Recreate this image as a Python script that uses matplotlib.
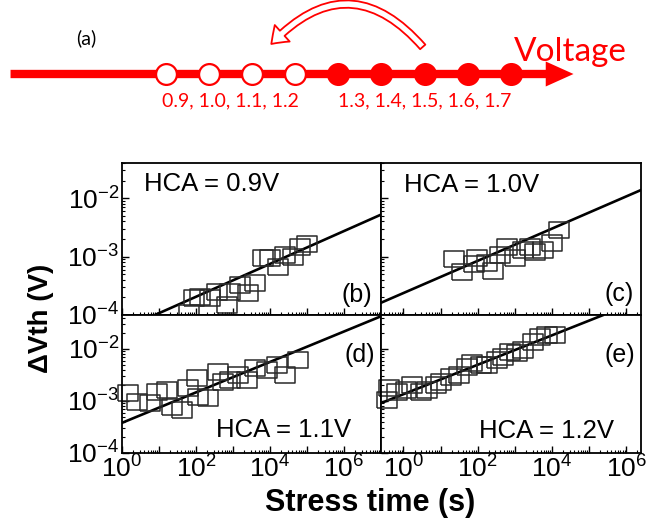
'''
HCA stress voltage diagram + dVth vs stress time (4 panels, log-log)
'''
import numpy as np
import matplotlib.pyplot as plt
from matplotlib.patches import FancyArrowPatch
from matplotlib.ticker import LogLocator, FuncFormatter, NullFormatter

W, H = 650, 523  # 出力サイズ(px)

plt.rcParams["font.family"] = ["Liberation Sans", "DejaVu Sans"]

# (a) 電圧の並び
volt_hca = [0.9, 1.0, 1.1, 1.2]          # 白丸
volt_stress = [1.3, 1.4, 1.5, 1.6, 1.7]  # 黒丸
hca_label = "0.9, 1.0, 1.1, 1.2"
stress_label = "1.3, 1.4, 1.5, 1.6, 1.7"

# 各パネルの点 (log10 t[s], log10 dVth[V]) 図から読み取り
b_logt = [1.81, 1.95, 2.11, 2.38, 2.57, 2.84, 2.92, 3.19, 3.41, 3.59,
          3.81, 4.00, 4.22, 4.41, 4.62, 4.81, 5.00]
b_logv = [-3.97, -3.71, -3.69, -3.71, -3.61, -3.83, -3.61, -3.49, -3.62, -3.45,
          -3.02, -3.02, -3.18, -2.97, -3.01, -2.84, -2.78]
b_fit_logt = [0.89, 6.97]
b_fit_logv = [-4.00, -2.29]

c_logt = [1.37, 1.59, 1.89, 1.99, 2.24, 2.40, 2.59, 2.78, 3.00, 3.21,
          3.40, 3.54, 3.75, 3.99, 4.18]
c_logv = [-3.04, -3.26, -3.13, -3.02, -3.11, -3.25, -2.97, -2.84, -3.02, -2.89,
          -2.84, -2.92, -2.89, -2.77, -2.54]
c_fit_logt = [-0.60, 6.40]
c_fit_logv = [-3.79, -1.86]

d_logt = [0.16, 0.41, 0.76, 0.95, 1.22, 1.35, 1.62, 1.78, 2.05, 2.03,
          2.32, 2.59, 2.73, 2.92, 3.14, 3.38, 3.59, 3.92, 4.19, 4.41, 4.76]
d_logv = [-2.85, -3.02, -3.04, -2.83, -2.79, -3.12, -3.17, -2.75, -2.92, -2.56,
          -2.94, -2.44, -2.63, -2.60, -2.50, -2.60, -2.37, -2.40, -2.31, -2.50, -2.21]
d_fit_logt = [0.00, 6.97]
d_fit_logv = [-3.42, -1.38]

e_logt = [-0.44, -0.38, -0.17, 0.08, 0.24, 0.48, 0.64, 0.89, 1.02, 1.29,
          1.51, 1.70, 1.86, 2.10, 2.26, 2.51, 2.67, 2.86, 3.05, 3.21,
          3.48, 3.67, 3.86, 4.08]
e_logv = [-2.98, -2.75, -2.83, -2.79, -2.69, -2.83, -2.79, -2.69, -2.63, -2.54,
          -2.50, -2.35, -2.27, -2.31, -2.31, -2.21, -2.15, -2.06, -2.08, -2.02,
          -1.87, -1.77, -1.73, -1.73]
e_fit_logt = [-0.60, 5.37]
e_fit_logv = [-3.04, -1.35]

# 横長の四角マーカー
RECT = [(-1, -0.82), (1, -0.82), (1, 0.82), (-1, 0.82), (-1, -0.82)]


def fig_rect(x0, y0, x1, y1):
    # px (左上原点) -> figure座標
    return [x0 / W, 1 - y1 / H, (x1 - x0) / W, (y1 - y0) / H]


def exp_label(every):
    def f(v, pos):
        e = int(round(np.log10(v)))
        if e % every:
            return ""
        return r"$\mathregular{10^{%d}}$" % e
    return FuncFormatter(f)


def panel(ax, logt, logv, fit_logt, fit_logv, xlim, ylim, hca, tag,
          hca_pos, tag_pos, show_x, show_y):
    ax.set_xscale("log")
    ax.set_yscale("log")
    ax.plot(10 ** np.array(fit_logt), 10 ** np.array(fit_logv),
            color="black", lw=1.9)
    ax.plot(10 ** np.array(logt), 10 ** np.array(logv), ls="none",
            marker=RECT, ms=14, mfc="none", mec="#2a2a2a", mew=1.1,
            clip_on=False)
    ax.set_xlim(*xlim)
    ax.set_ylim(*ylim)

    ax.xaxis.set_major_locator(LogLocator(base=10, numticks=20))
    ax.xaxis.set_minor_locator(LogLocator(base=10, subs=np.arange(2, 10), numticks=20))
    ax.yaxis.set_major_locator(LogLocator(base=10, numticks=20))
    ax.yaxis.set_minor_locator(LogLocator(base=10, subs=np.arange(2, 10), numticks=20))
    ax.xaxis.set_major_formatter(exp_label(2) if show_x else NullFormatter())
    ax.yaxis.set_major_formatter(exp_label(1) if show_y else NullFormatter())
    ax.xaxis.set_minor_formatter(NullFormatter())
    ax.yaxis.set_minor_formatter(NullFormatter())

    ax.tick_params(which="both", direction="in", top=False, right=False,
                   labelsize=19, pad=2)
    ax.tick_params(which="major", length=5, width=1)
    ax.tick_params(which="minor", length=2.4, width=0.8)
    for s in ax.spines.values():
        s.set_linewidth(1.3)

    ax.text(*hca_pos, hca, transform=ax.transAxes, fontsize=18.5,
            ha="center", va="center")
    ax.text(*tag_pos, tag, transform=ax.transAxes, fontsize=18,
            ha="center", va="center")


def diagram(fig):
    # (a) 電圧軸の図
    dg = fig.add_axes(fig_rect(0, 0, W, 130))
    dg.set_xlim(0.515, 2.023)
    dg.set_ylim(130, 0)
    dg.axis("off")
    y0 = 74

    arrow = FancyArrowPatch((0.533, y0), (1.852, y0),
                            arrowstyle="simple,head_length=20,head_width=18,tail_width=6",
                            mutation_scale=1, color="red", lw=0)
    dg.add_patch(arrow)

    dg.scatter(volt_hca, [y0] * len(volt_hca), s=225, facecolor="white",
               edgecolor="red", lw=1.6, zorder=3)
    dg.scatter(volt_stress, [y0] * len(volt_stress), s=225, facecolor="red",
               edgecolor="red", lw=1.6, zorder=3)

    # 戻り矢印 (1.5 -> 1.1~1.2)
    back = FancyArrowPatch((volt_stress[2], 49), (1.14, 46),
                           connectionstyle="arc3,rad=0.56",
                           arrowstyle="simple,head_length=11,head_width=16,tail_width=5",
                           mutation_scale=1, fc="white", ec="red", lw=1.3)
    dg.add_patch(back)

    dg.text(np.mean(volt_hca), 106, hca_label, color="red", fontsize=14,
            family="Lato", ha="center", va="baseline")
    dg.text(np.mean(volt_stress), 106, stress_label, color="red", fontsize=14,
            family="Lato", ha="center", va="baseline")
    fig.text(86 / W, 1 - 38 / H, "(a)", fontsize=14, family="Lato",
             ha="center", va="center")
    fig.text(514 / W, 1 - 61 / H, "Voltage", color="red", fontsize=24,
             family="Lato", ha="left", va="baseline")


if __name__ == "__main__":
    fig = plt.figure(figsize=(W / 100, H / 100), dpi=100)

    diagram(fig)

    left_xlim = (1, 1e7)
    right_xlim = (0.25, 2.5e6)
    top_ylim = (1e-4, 4e-2)
    bot_ylim = (1e-4, 4.5e-2)

    ax_b = fig.add_axes(fig_rect(122, 163, 381, 315))
    ax_c = fig.add_axes(fig_rect(381, 163, 641, 315))
    ax_d = fig.add_axes(fig_rect(122, 315, 381, 453))
    ax_e = fig.add_axes(fig_rect(381, 315, 641, 453))

    panel(ax_b, b_logt, b_logv, b_fit_logt, b_fit_logv, left_xlim, top_ylim,
          "HCA = 0.9V", "(b)", (0.347, 0.862), (0.907, 0.132), False, True)
    panel(ax_c, c_logt, c_logv, c_fit_logt, c_fit_logv, right_xlim, top_ylim,
          "HCA = 1.0V", "(c)", (0.347, 0.855), (0.915, 0.138), False, False)
    panel(ax_d, d_logt, d_logv, d_fit_logt, d_fit_logv, left_xlim, bot_ylim,
          "HCA = 1.1V", "(d)", (0.622, 0.167), (0.919, 0.710), True, True)
    panel(ax_e, e_logt, e_logv, e_fit_logt, e_fit_logv, right_xlim, bot_ylim,
          "HCA = 1.2V", "(e)", (0.637, 0.159), (0.919, 0.710), True, False)

    fig.text(41 / W, 1 - 318 / H, "ΔVth (V)", rotation=90, fontsize=20,
             fontweight="bold", ha="center", va="center")
    fig.text(370 / W, 1 - 503 / H, "Stress time (s)", fontsize=22,
             fontweight="bold", ha="center", va="center")

    fig.savefig("out.png", dpi=100)
